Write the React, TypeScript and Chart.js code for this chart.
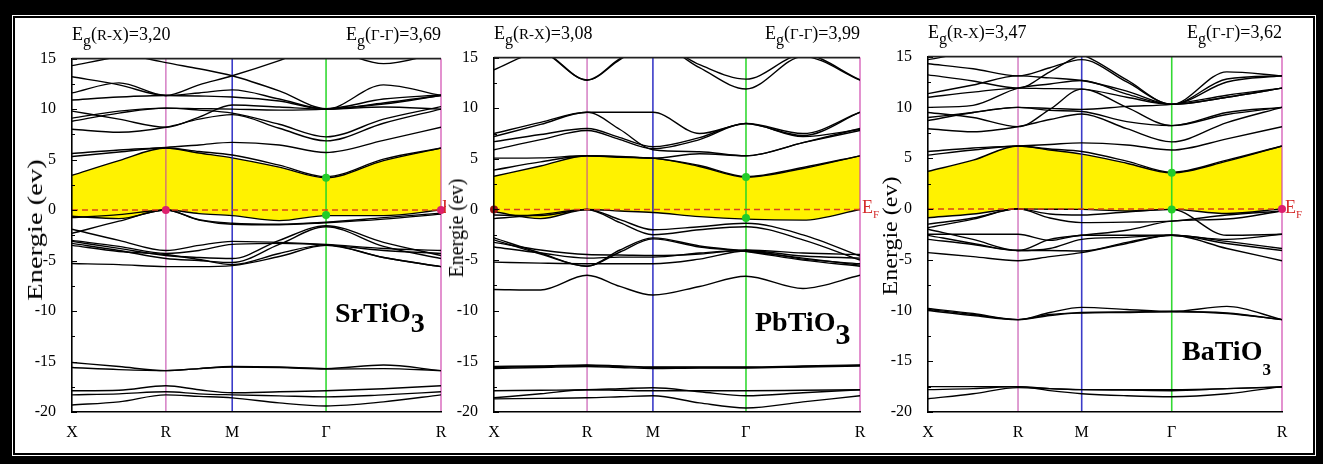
import React, { useEffect, useRef } from 'react';
import { Chart, registerables } from 'chart.js';

Chart.register(...registerables);

// ---------- data ----------
const K_SAMPLES = [0, 0.354, 0.707, 0.957, 1.207, 1.561, 1.914, 2.347, 2.78];
const K_SYMMETRY = [0, 0.707, 1.207, 1.914, 2.78];
const K_LABELS = ['X', 'R', 'M', 'Γ', 'R'];
const E_MIN = -20;
const E_MAX = 15;
const E_STEP = 5;
const FERMI_LEVEL = 0;

const MATERIALS = ['SrTiO', 'PbTiO', 'BaTiO'];
const GAP_RX = ['3,20', '3,08', '3,47'];
const GAP_GG = ['3,69', '3,99', '3,62'];

// first row = lowest conduction band (top of the yellow gap)
const SRTIO3_CONDUCTION = [
  [3.44, 4.9, 6.14, 5.65, 5.17, 4.25, 3.2, 4.9, 6.14],
  [5.3, 5.75, 6.14, 5.8, 5.45, 4.45, 3.3, 5.05, 6.14],
  [5.6, 5.95, 6.2, 6.45, 6.7, 6.45, 5.7, 6.9, 8.2],
  [8.0, 7.7, 8.2, 9.0, 9.45, 8.1, 6.85, 8.6, 10.0],
  [8.8, 9.6, 10.1, 9.9, 9.6, 8.5, 7.25, 9.0, 10.25],
  [9.1, 9.8, 10.1, 10.05, 10.0, 9.9, 10.0, 10.5, 11.35],
  [9.8, 9.0, 8.2, 9.2, 10.4, 10.2, 10.0, 10.2, 10.0],
  [10.9, 11.2, 11.35, 11.3, 11.2, 10.8, 10.0, 10.6, 11.35],
  [11.6, 12.6, 11.35, 11.6, 11.9, 11.0, 10.0, 12.4, 11.35],
  [13.2, 12.4, 11.35, 12.4, 13.3, 14.8, 16.5, 16.0, 15.5],
  [16.5, 15.6, 14.6, 14.0, 13.3, 11.8, 10.05, 11.0, 11.4],
  [14.3, 15.2, 16.0, 16.5, 16.5, 16.2, 16.0, 14.5, 15.6],
];
// first row = highest valence band (bottom of the yellow gap)
const SRTIO3_VALENCE = [
  [-0.62, -0.85, 0, -0.35, -0.55, -1.05, -0.55, -0.55, 0],
  [-0.75, -0.45, 0, -0.95, -1.3, -1.4, -1.2, -0.75, -0.3],
  [-2.3, -1.1, 0, -1.0, -1.4, -1.45, -1.25, -0.9, -0.4],
  [-1.9, -3.0, -4.0, -3.5, -3.1, -3.2, -3.4, -3.8, -4.0],
  [-3.0, -3.6, -4.3, -4.0, -3.4, -3.3, -3.45, -4.0, -4.3],
  [-3.1, -3.8, -4.5, -4.7, -4.8, -3.0, -1.55, -3.2, -4.5],
  [-3.3, -4.0, -4.8, -5.0, -5.2, -3.4, -1.65, -3.6, -4.8],
  [-3.5, -4.1, -4.4, -4.9, -5.4, -4.3, -3.45, -4.7, -5.6],
  [-5.3, -5.4, -5.6, -5.6, -5.5, -4.6, -3.5, -4.7, -5.6],
  [-15.1, -15.5, -15.9, -15.7, -15.5, -15.55, -15.7, -15.35, -15.9],
  [-15.6, -15.8, -15.9, -15.7, -15.55, -15.6, -15.75, -15.7, -15.9],
  [-17.9, -17.85, -17.4, -17.8, -18.1, -18.0, -17.9, -17.7, -17.4],
  [-18.3, -18.2, -18.0, -18.2, -18.3, -18.4, -18.5, -18.3, -18.0],
  [-19.3, -19.0, -18.3, -18.45, -18.6, -19.1, -19.4, -19.0, -18.3],
];
const SRTIO3_EDGE_POINTS = [[0.707, 0], [2.78, 0]];
const SRTIO3_GAMMA_POINTS = [[1.914, 3.2], [1.914, -0.5]];

const PBTIO3_CONDUCTION = [
  [3.28, 4.3, 5.3, 5.15, 5.07, 4.25, 3.2, 4.05, 5.3],
  [3.9, 4.7, 5.3, 5.2, 5.07, 4.35, 3.25, 4.15, 5.3],
  [5.07, 5.1, 5.3, 5.25, 5.07, 5.5, 5.3, 6.6, 7.8],
  [5.9, 6.9, 7.8, 6.9, 6.0, 6.9, 8.5, 7.2, 7.9],
  [6.7, 7.4, 8.0, 7.1, 6.2, 7.1, 8.5, 7.5, 9.6],
  [7.2, 8.4, 9.6, 7.9, 5.9, 5.7, 5.3, 6.6, 8.0],
  [7.5, 8.6, 9.6, 9.6, 9.6, 7.5, 8.45, 7.3, 9.6],
  [13.8, 15.5, 12.77, 14.8, 16.5, 14.0, 11.9, 15.1, 12.77],
  [16.2, 15.7, 12.8, 14.9, 16.5, 14.3, 12.87, 15.3, 12.8],
];
const PBTIO3_VALENCE = [
  [-0.23, -0.9, 0, -0.15, -0.3, -0.7, -0.95, -1.05, 0],
  [-0.55, -0.6, 0, -1.0, -2.0, -1.7, -1.36, -2.5, -4.6],
  [-0.9, -0.5, 0, -1.3, -2.5, -2.0, -1.7, -3.0, -5.0],
  [-2.8, -4.3, -5.6, -4.0, -2.8, -3.6, -4.1, -4.8, -5.5],
  [-3.0, -4.4, -5.6, -4.2, -2.9, -3.7, -4.15, -5.0, -5.6],
  [-3.25, -4.0, -4.45, -4.5, -4.55, -4.4, -4.0, -4.3, -4.45],
  [-3.7, -4.3, -4.8, -4.7, -4.7, -4.3, -4.05, -4.6, -4.8],
  [-5.2, -5.3, -5.36, -5.36, -5.36, -4.9, -4.1, -4.9, -5.36],
  [-7.9, -7.95, -6.5, -7.6, -8.45, -7.6, -6.6, -7.8, -6.5],
  [-15.6, -15.5, -15.4, -15.5, -15.6, -15.6, -15.6, -15.5, -15.4],
  [-15.7, -15.6, -15.5, -15.6, -15.7, -15.65, -15.65, -15.55, -15.45],
  [-15.5, -15.45, -15.35, -15.45, -15.55, -15.55, -15.55, -15.45, -15.35],
  [-17.9, -17.85, -17.8, -17.7, -17.6, -18.0, -18.4, -18.1, -17.8],
  [-18.6, -18.2, -17.8, -17.85, -17.9, -17.9, -17.9, -17.85, -17.8],
  [-18.7, -18.65, -18.6, -18.5, -18.4, -19.1, -19.6, -19.0, -18.4],
];
const PBTIO3_EDGE_POINTS = [[0, 0]];
const PBTIO3_GAMMA_POINTS = [[1.914, 3.2], [1.914, -0.85]];

const BATIO3_CONDUCTION = [
  [3.7, 4.8, 6.2, 5.8, 5.4, 4.5, 3.55, 4.7, 6.2],
  [5.3, 5.8, 6.2, 5.9, 5.65, 4.7, 3.6, 4.8, 6.2],
  [5.65, 6.0, 6.2, 6.35, 6.5, 6.3, 5.8, 6.9, 8.1],
  [7.9, 7.6, 8.1, 8.8, 9.35, 7.9, 6.6, 8.5, 10.0],
  [8.7, 9.5, 10.0, 9.7, 9.6, 8.6, 8.2, 9.5, 10.0],
  [9.0, 9.5, 10.0, 9.9, 9.8, 10.1, 10.3, 11.2, 11.9],
  [9.5, 9.0, 8.1, 9.8, 11.8, 10.0, 8.2, 9.3, 10.0],
  [10.0, 10.2, 11.9, 12.3, 12.65, 11.3, 10.3, 12.8, 13.1],
  [11.0, 11.5, 11.9, 11.85, 11.8, 11.0, 10.3, 11.0, 11.9],
  [11.35, 12.2, 13.1, 12.9, 12.65, 11.6, 10.3, 13.5, 13.1],
  [14.3, 13.8, 13.1, 13.9, 14.7, 12.5, 10.3, 11.0, 11.9],
  [14.7, 15.5, 16.0, 15.6, 15.2, 12.7, 10.3, 12.5, 13.1],
  [13.2, 12.6, 11.9, 13.5, 15.2, 16.0, 16.0, 16.0, 16.0],
];
const BATIO3_VALENCE = [
  [-0.87, -0.5, 0, -0.03, -0.05, -0.2, -0.05, -0.45, 0],
  [-1.5, -0.9, 0, -0.9, -1.35, -1.3, -1.2, -0.6, -0.2],
  [-1.85, -1.0, 0, -0.5, -0.6, -0.3, -0.05, -2.6, -2.5],
  [-2.0, -3.0, -4.1, -3.0, -2.6, -2.1, -1.2, -1.0, -0.2],
  [-2.5, -2.5, -2.5, -3.1, -2.6, -2.6, -2.6, -3.0, -2.5],
  [-3.0, -3.5, -4.1, -4.1, -4.15, -3.3, -2.6, -3.4, -4.1],
  [-4.3, -4.7, -5.1, -4.7, -4.3, -3.4, -2.6, -3.9, -5.1],
  [-2.6, -3.4, -4.1, -3.9, -3.0, -2.8, -2.6, -3.2, -3.9],
  [-9.8, -10.3, -10.9, -10.2, -9.7, -9.9, -10.1, -9.6, -10.9],
  [-10.0, -10.5, -10.9, -10.5, -10.2, -10.15, -10.1, -10.25, -10.9],
  [-9.9, -10.4, -10.9, -10.4, -10.25, -10.2, -10.1, -10.3, -10.9],
  [-17.5, -17.5, -17.5, -17.7, -17.8, -17.8, -17.8, -17.7, -17.5],
  [-17.8, -17.7, -17.5, -17.9, -18.2, -18.4, -18.5, -18.2, -17.5],
  [-18.7, -18.2, -17.6, -17.7, -17.8, -17.85, -17.9, -17.7, -17.55],
];
const BATIO3_EDGE_POINTS = [[2.78, 0]];
const BATIO3_GAMMA_POINTS = [[1.914, 3.55], [1.914, -0.05]];

const BANDS = [
  { conduction: SRTIO3_CONDUCTION, valence: SRTIO3_VALENCE, edge: SRTIO3_EDGE_POINTS, gamma: SRTIO3_GAMMA_POINTS },
  { conduction: PBTIO3_CONDUCTION, valence: PBTIO3_VALENCE, edge: PBTIO3_EDGE_POINTS, gamma: PBTIO3_GAMMA_POINTS },
  { conduction: BATIO3_CONDUCTION, valence: BATIO3_VALENCE, edge: BATIO3_EDGE_POINTS, gamma: BATIO3_GAMMA_POINTS },
];

// ---------- layout & style ----------
const SERIF = "'Liberation Serif', 'Times New Roman', serif";
const YELLOW = '#fff200';
const VLINE_COLORS = [null, 'rgba(190,60,165,0.62)', 'rgba(25,25,190,0.85)', 'rgba(40,215,40,0.95)', 'rgba(205,60,170,0.7)'];
const PAD_L = 60;
const PAD_T = 12;
const PAD_R = 12;
const PAD_B = 40;

const LAYOUT = [
  { plot: [72, 53, 441, 412], title: { cx: 35, cy: 230, s: 1.43 }, name: { left: 335, base: 322, sub: 28, drop: 10 }, ef: { left: 442, base: 213, clip: 4 }, egBase: 40, edgeColor: '#dd1f6e' },
  { plot: [494, 52, 860, 412], title: { cx: 456, cy: 228, s: 1.0 }, name: { left: 755, base: 329, sub: 30, drop: 13 }, ef: { left: 862, base: 213, clip: 0 }, egBase: 39, edgeColor: '#9a1616' },
  { plot: [928, 51, 1282, 412], title: { cx: 890, cy: 236, s: 1.2 }, name: { left: 1182, base: 360, sub: 17, drop: 15 }, ef: { left: 1285, base: 213, clip: 0 }, egBase: 38, edgeColor: '#dd1f6e' },
];

const framePlugin = {
  id: 'bandFrame',
  afterDatasetDraw(chart: any, args: any) {
    if (args.index !== 1) return;
    const { ctx, chartArea } = chart;
    const xs = chart.scales.x;
    ctx.save();
    VLINE_COLORS.forEach((c, i) => {
      if (!c) return;
      const px = xs.getPixelForValue(K_SYMMETRY[i]);
      ctx.strokeStyle = c;
      ctx.lineWidth = 1.6;
      ctx.beginPath();
      ctx.moveTo(px, chartArea.top);
      ctx.lineTo(px, chartArea.bottom);
      ctx.stroke();
    });
    ctx.restore();
  },
  afterDraw(chart: any) {
    const { ctx, chartArea } = chart;
    const ys = chart.scales.y;
    const vals = ys.ticks.map((t: any) => t.value);
    ctx.save();
    ctx.strokeStyle = '#000';
    ctx.lineWidth = 1;
    const tick = (v: number, len: number) => {
      const py = Math.round(ys.getPixelForValue(v)) + 0.5;
      ctx.beginPath();
      ctx.moveTo(chartArea.left, py);
      ctx.lineTo(chartArea.left + len, py);
      ctx.stroke();
    };
    for (let i = 0; i < vals.length; i++) {
      tick(vals[i], 5);
      if (i < vals.length - 1) tick((vals[i] + vals[i + 1]) / 2, 3);
    }
    ctx.strokeStyle = '#222';
    ctx.lineWidth = 1.6;
    ctx.beginPath();
    ctx.moveTo(chartArea.left, chartArea.top);
    ctx.lineTo(chartArea.right, chartArea.top);
    ctx.stroke();
    ctx.restore();
  },
};

function BandChart({ index }: { index: number }) {
  const ref = useRef<HTMLCanvasElement>(null);
  const lay = LAYOUT[index];
  const [l, t, r, b] = lay.plot;
  const w = r - l + PAD_L + PAD_R;
  const h = b - t + PAD_T + PAD_B;

  useEffect(() => {
    const bands = BANDS[index];
    const pts = (vals: number[]) => vals.map((e, i) => ({ x: K_SAMPLES[i], y: e }));
    const line = (vals: number[], extra: any = {}) => ({
      data: pts(vals),
      borderColor: '#000',
      borderWidth: 1.4,
      pointRadius: 0,
      pointHoverRadius: 0,
      cubicInterpolationMode: 'monotone',
      fill: false,
      order: 5,
      ...extra,
    });
    const datasets: any[] = [
      line(bands.valence[0], { order: 9 }),
      line(bands.conduction[0], { order: 10, fill: 0, backgroundColor: YELLOW }),
      ...bands.conduction.slice(1).map((v) => line(v)),
      ...bands.valence.slice(1).map((v) => line(v)),
      {
        data: [{ x: K_SYMMETRY[0], y: FERMI_LEVEL }, { x: K_SYMMETRY[K_SYMMETRY.length - 1], y: FERMI_LEVEL }],
        borderColor: '#d8401e',
        borderWidth: 1.5,
        borderDash: [6, 4],
        pointRadius: 0,
        fill: false,
        order: 2,
      },
      {
        data: bands.edge.map(([x, y]) => ({ x, y })),
        showLine: false,
        pointRadius: 4,
        pointBackgroundColor: lay.edgeColor,
        pointBorderWidth: 0,
        order: 1,
        clip: false,
      },
      {
        data: bands.gamma.map(([x, y]) => ({ x, y })),
        showLine: false,
        pointRadius: 4,
        pointBackgroundColor: '#22cc2a',
        pointBorderWidth: 0,
        order: 0,
        clip: false,
      },
    ];

    const chart = new Chart(ref.current as HTMLCanvasElement, {
      type: 'line',
      data: { datasets },
      plugins: [framePlugin],
      options: {
        animation: false,
        responsive: false,
        devicePixelRatio: 1,
        events: [],
        layout: { padding: { left: 0, top: PAD_T, right: PAD_R, bottom: 0 } },
        plugins: { legend: { display: false }, tooltip: { enabled: false }, title: { display: false } },
        scales: {
          x: {
            type: 'linear',
            min: K_SYMMETRY[0],
            max: K_SYMMETRY[K_SYMMETRY.length - 1],
            grid: { display: false },
            border: { display: true, color: '#000', width: 1.6, z: 1 },
            afterBuildTicks: (axis: any) => {
              axis.ticks = K_SYMMETRY.map((v) => ({ value: v }));
            },
            afterFit: (axis: any) => {
              axis.height = PAD_B;
            },
            ticks: {
              autoSkip: false,
              maxRotation: 0,
              padding: 3,
              color: '#000',
              font: { family: SERIF, size: 16 },
              callback: (_v: any, i: number) => K_LABELS[i],
            },
          },
          y: {
            type: 'linear',
            min: E_MIN,
            max: E_MAX,
            grid: { display: false },
            border: { display: true, color: '#000', width: 1.6, z: 1 },
            afterFit: (axis: any) => {
              axis.width = PAD_L;
            },
            ticks: {
              stepSize: E_STEP,
              padding: 8,
              color: '#000',
              font: { family: SERIF, size: 16 },
            },
          },
        },
      } as any,
    });
    return () => chart.destroy();
  }, [index]);

  return (
    <canvas
      ref={ref}
      width={w}
      height={h}
      style={{ position: 'absolute', left: l - PAD_L, top: t - PAD_T, width: w, height: h }}
    />
  );
}

function Txt({ left, right, base, size, bold, color, children }: any) {
  const style: any = {
    position: 'absolute',
    top: base - 0.8375 * size,
    fontFamily: SERIF,
    fontSize: size,
    fontWeight: bold ? 'bold' : 'normal',
    lineHeight: 1,
    whiteSpace: 'nowrap',
    color: color || '#000',
  };
  if (left !== undefined) style.left = left;
  if (right !== undefined) style.right = right;
  return <div style={style}>{children}</div>;
}

const W = 1323;
const H = 464;

export default function App() {
  return (
    <div style={{ position: 'fixed', left: 0, top: 0, width: W, height: H, background: '#fff', overflow: 'hidden' }}>
      {LAYOUT.map((lay, i) => {
        const [l, , r] = lay.plot;
        const efLabel = (
          <span>
            E<span style={{ fontSize: 11, position: 'relative', top: 5 }}>F</span>
          </span>
        );
        return (
          <React.Fragment key={i}>
            <BandChart index={i} />
            <Txt left={l} base={lay.egBase} size={18}>
              E<span style={{ fontSize: 16, position: 'relative', top: 6 }}>g</span>(<span style={{ fontSize: 15 }}>R-X</span>)={GAP_RX[i]}
            </Txt>
            <Txt right={W - r} base={lay.egBase} size={18}>
              E<span style={{ fontSize: 16, position: 'relative', top: 6 }}>g</span>(<span style={{ fontSize: 15 }}>Γ-Γ</span>)={GAP_GG[i]}
            </Txt>
            <Txt left={lay.name.left} base={lay.name.base} size={28} bold>
              {MATERIALS[i]}
              <span style={{ fontSize: lay.name.sub, position: 'relative', top: lay.name.drop }}>3</span>
            </Txt>
            {lay.ef.clip ? (
              <div style={{ position: 'absolute', left: lay.ef.left, top: 180, width: lay.ef.clip, height: 50, overflow: 'hidden' }}>
                <Txt left={0} base={lay.ef.base - 180} size={18} color="#d42a2a">{efLabel}</Txt>
              </div>
            ) : (
              <Txt left={lay.ef.left} base={lay.ef.base} size={18} color="#d42a2a">{efLabel}</Txt>
            )}
            <div
              style={{
                position: 'absolute',
                left: lay.title.cx,
                top: lay.title.cy,
                transform: `translate(-50%, -50%) rotate(-90deg) scaleX(${lay.title.s})`,
                fontFamily: SERIF,
                fontSize: 20,
                lineHeight: 1,
                whiteSpace: 'nowrap',
                color: '#000',
              }}
            >
              Energie (ev)
            </div>
          </React.Fragment>
        );
      })}
      <div
        style={{
          position: 'absolute',
          left: 0,
          top: 0,
          width: W,
          height: H,
          boxSizing: 'border-box',
          borderStyle: 'solid',
          borderColor: '#000',
          borderWidth: '15px 7px 8px 12px',
          pointerEvents: 'none',
        }}
      >
        <div style={{ width: '100%', height: '100%', boxSizing: 'border-box', border: '1px solid #fff' }}>
          <div style={{ width: '100%', height: '100%', boxSizing: 'border-box', border: '2px solid #000' }} />
        </div>
      </div>
    </div>
  );
}
